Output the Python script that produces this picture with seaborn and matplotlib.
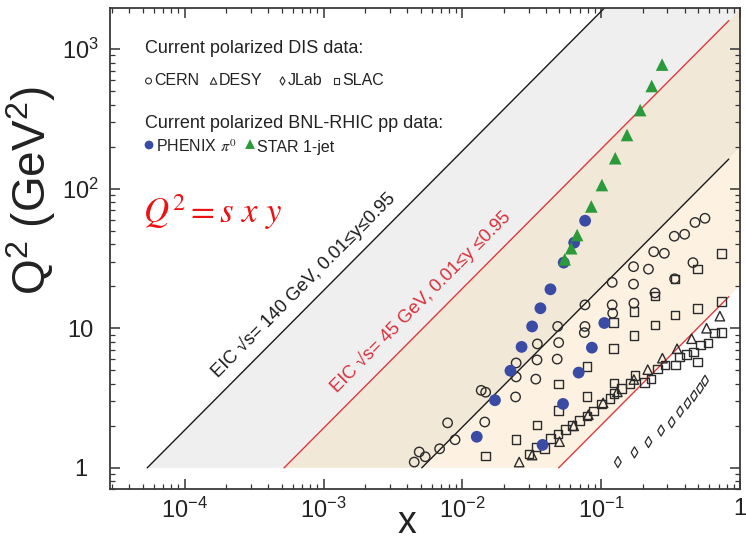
import numpy as np
import matplotlib
matplotlib.use("Agg")
import matplotlib.pyplot as plt
import seaborn as sns
from matplotlib.ticker import FixedLocator, FixedFormatter, NullFormatter, LogLocator

# ---------------- data ----------------
cern_x = [0.559, 0.474, 0.399, 0.336, 0.239, 0.285, 0.171, 0.219, 0.458, 0.338,
          0.120, 0.171, 0.244, 0.0764, 0.120, 0.172, 0.121, 0.0486, 0.0764, 0.0756,
          0.0347, 0.0494, 0.0244, 0.0345, 0.0482, 0.0244, 0.0338, 0.01367, 0.01472,
          0.02417, 0.00783, 0.0145, 0.00886, 0.00686, 0.00489, 0.0054, 0.0045]
cern_q2 = [61.3, 57.2, 47.1, 45.6, 35.3, 34.4, 27.6, 26.5, 29.5, 22.6,
           21.3, 20.7, 17.9, 14.7, 14.7, 15.1, 12.8, 10.3, 10.3, 9.30,
           7.72, 7.89, 5.64, 5.93, 6.01, 4.48, 4.32, 3.59, 3.48,
           3.22, 2.10, 2.13, 1.59, 1.37, 1.30, 1.20, 1.10]

slac_x = [0.735, 0.492, 0.340, 0.2445, 0.735, 0.492, 0.340, 0.2445, 0.172, 0.1227,
          0.172, 0.1227, 0.0789, 0.0494, 0.0789, 0.0494, 0.0345, 0.0244, 0.01472, 0.494,
          0.735, 0.652, 0.587, 0.520, 0.4607, 0.412, 0.3655, 0.343, 0.2885, 0.2553,
          0.229, 0.2049, 0.175, 0.1617, 0.140, 0.1234, 0.1238, 0.1155, 0.1002, 0.0882,
          0.0789, 0.0698, 0.0616, 0.0553, 0.049, 0.0431, 0.0390, 0.0340, 0.0301]
slac_q2 = [34.4, 26.6, 22.5, 17.0, 15.5, 13.9, 12.45, 10.56, 13.15, 10.97,
           8.84, 7.14, 5.33, 3.99, 3.24, 2.57, 2.03, 1.59, 1.22, 5.74,
           9.29, 9.21, 7.85, 7.59, 6.74, 6.49, 6.23, 5.46, 5.46, 5.11,
           4.34, 4.09, 4.59, 4.01, 3.69, 4.04, 3.40, 3.13, 2.87, 2.55,
           2.36, 2.19, 2.01, 1.88, 1.75, 1.63, 1.38, 1.41, 1.26]

desy_x = [0.716, 0.574, 0.448, 0.352, 0.276, 0.2164, 0.172, 0.1307, 0.1032, 0.0808,
          0.0634, 0.0501, 0.0318, 0.02566]
desy_q2 = [12.2, 10.0, 8.41, 7.13, 6.10, 5.05, 4.29, 3.50, 2.92, 2.40,
           2.00, 1.54, 1.235, 1.10]

jlab_x = [0.1318, 0.1737, 0.219, 0.270, 0.322, 0.370, 0.419, 0.466, 0.515, 0.559]
jlab_q2 = [1.10, 1.29, 1.53, 1.85, 2.12, 2.53, 2.90, 3.28, 3.72, 4.20]

phenix_x = [0.0127, 0.01717, 0.0222, 0.0267, 0.0318, 0.0365, 0.0431, 0.0537, 0.0639, 0.0766,
            0.0378, 0.0531, 0.0688, 0.0857, 0.1053]
phenix_q2 = [1.67, 3.05, 4.96, 7.35, 10.3, 13.9, 19.0, 29.5, 41.0, 58.9,
             1.46, 2.87, 4.81, 7.26, 10.9]

star_x = [0.0546, 0.0608, 0.0671, 0.0849, 0.1012, 0.1262, 0.1534, 0.1909, 0.2312, 0.2746]
star_q2 = [31.1, 37.4, 46.5, 74.5, 106, 165, 242, 365, 543, 773]

# EIC kinematic reach: Q^2 = s x y
eic_sqrt_s = [140, 45]
y_range = [0.01, 0.95]
q2_floor = 1.0
line_x_end = 0.83

x_ticks = [1e-4, 1e-3, 1e-2, 1e-1, 1]
x_ticklabels = [r'$10^{-4}$', r'$10^{-3}$', r'$10^{-2}$', r'$10^{-1}$', '1']
y_ticks = [1, 10, 100, 1000]
y_ticklabels = ['1', '10', r'$10^{2}$', r'$10^{3}$']

# ---------------- style ----------------
sns.set_style("ticks")
plt.rcParams['font.family'] = ['Liberation Sans', 'DejaVu Sans']
plt.rcParams['mathtext.fontset'] = 'custom'
plt.rcParams['mathtext.rm'] = 'Liberation Sans'
plt.rcParams['mathtext.it'] = 'Liberation Sans:italic'
plt.rcParams['mathtext.bf'] = 'Liberation Sans:bold'

BLUE = '#3a4ba6'
GREEN = '#2b9a3a'
DARK = '#2b2b2b'
RED_LINE = '#e03a3f'
RED_TXT = '#d8303a'

fig = plt.figure(figsize=(7.46, 5.42), dpi=100)
ax = fig.add_axes([0.1475, 0.0969, 0.8445, 0.8883])
ax.set_xscale('log')
ax.set_yscale('log')
ax.set_xlim(2.9e-5, 1.0)
ax.set_ylim(0.70, 1965)

# ---------------- EIC bands ----------------
c140_hi = eic_sqrt_s[0] ** 2 * y_range[1]
c140_lo = eic_sqrt_s[0] ** 2 * y_range[0]
c45_hi = eic_sqrt_s[1] ** 2 * y_range[1]
c45_lo = eic_sqrt_s[1] ** 2 * y_range[0]

def band(c_hi, c_lo, color):
    xs = [q2_floor / c_hi, 1.0, 1.0, q2_floor / c_lo]
    ys = [q2_floor, c_hi, c_lo, q2_floor]
    ax.fill(xs, ys, color=color, lw=0, zorder=0)

band(c140_hi, c45_hi, '#efeff0')   # 140 GeV only
band(c45_hi, c140_lo, '#f2e8d7')   # overlap
band(c140_lo, c45_lo, '#fdf2e2')   # 45 GeV only

for c, col in [(c140_hi, '#1a1a1a'), (c45_hi, RED_LINE), (c140_lo, '#1a1a1a'), (c45_lo, RED_LINE)]:
    ax.plot([q2_floor / c, line_x_end], [q2_floor, c * line_x_end], color=col, lw=1.0, zorder=1)

# ---------------- data markers ----------------
sns.scatterplot(x=cern_x, y=cern_q2, marker='o', s=46, facecolor='none', edgecolor=DARK,
                linewidth=1.0, ax=ax, zorder=3)
sns.scatterplot(x=slac_x, y=slac_q2, marker='s', s=38, facecolor='none', edgecolor=DARK,
                linewidth=1.0, ax=ax, zorder=3)
sns.scatterplot(x=desy_x, y=desy_q2, marker='^', s=46, facecolor='none', edgecolor=DARK,
                linewidth=1.0, ax=ax, zorder=3)
sns.scatterplot(x=jlab_x, y=jlab_q2, marker='d', s=32, facecolor='none', edgecolor=DARK,
                linewidth=0.9, ax=ax, zorder=3)
sns.scatterplot(x=phenix_x, y=phenix_q2, marker='o', s=72, color=BLUE, edgecolor='none',
                linewidth=0, ax=ax, zorder=4)
sns.scatterplot(x=star_x, y=star_q2, marker='^', s=82, color=GREEN, edgecolor='none',
                linewidth=0, ax=ax, zorder=5)

# ---------------- axes, ticks ----------------
ax.xaxis.set_major_locator(FixedLocator(x_ticks))
ax.xaxis.set_major_formatter(FixedFormatter(x_ticklabels))
ax.yaxis.set_major_locator(FixedLocator(y_ticks))
ax.yaxis.set_major_formatter(FixedFormatter(y_ticklabels))
ax.xaxis.set_minor_locator(LogLocator(base=10, subs=np.arange(2, 10)))
ax.yaxis.set_minor_locator(LogLocator(base=10, subs=np.arange(2, 10)))
ax.xaxis.set_minor_formatter(NullFormatter())
ax.yaxis.set_minor_formatter(NullFormatter())
ax.tick_params(which='major', direction='in', length=7, width=1.1, top=True, right=True,
               labelsize=17, color='#333333', labelcolor='#222222')
ax.tick_params(axis='x', which='major', pad=6)
ax.tick_params(axis='y', which='major', pad=21)
ax.tick_params(which='minor', direction='in', length=3.8, width=0.9, top=True, right=True,
               color='#333333')
for lab in ax.get_yticklabels():
    lab.set_horizontalalignment('center')
for sp in ax.spines.values():
    sp.set_color('#3a3a3a')
    sp.set_linewidth(1.3)

ax.set_ylabel(r'Q$^2$ (GeV$^2$)', fontsize=33, color='#222222')
ax.yaxis.set_label_coords(-0.082, 0.62)
ax.set_xlabel('x', fontsize=27, color='#222222')
ax.xaxis.set_label_coords(0.471, -0.0903)
ax.xaxis.label.set_verticalalignment('baseline')

# ---------------- band labels ----------------
p1 = ax.transData.transform((1e-3, 1.0))
p2 = ax.transData.transform((1e-2, 10.0))
ang = np.degrees(np.arctan2(p2[1] - p1[1], p2[0] - p1[0]))
ax.text(1.73e-4, 4.4, 'EIC \u221as= 140 GeV, 0.01\u2264y\u22640.95', rotation=ang,
        rotation_mode='anchor', ha='left', va='baseline', fontsize=13.2, color='#1a1a1a', zorder=6)
ax.text(1.26e-3, 3.44, 'EIC \u221as= 45 GeV, 0.01\u2264y \u22640.95', rotation=ang,
        rotation_mode='anchor', ha='left', va='baseline', fontsize=13.2, color=RED_TXT, zorder=6)

ax.text(0.0524, 0.5535, r'$Q^2 = s\ x\ y$', transform=ax.transAxes, color='#ee1111',
        fontsize=25, math_fontfamily='stix', va='baseline', ha='left')

# ---------------- legend block ----------------
T = ax.transAxes
ax.text(0.0556, 0.9065, 'Current polarized DIS data:', transform=T, fontsize=13,
        va='baseline', color='#222222')
row2 = [('o', 0.0611, 'CERN', 0.0698, 18),
        ('^', 0.1643, 'DESY', 0.1730, 22),
        ('d', 0.2738, 'JLab', 0.2825, 18),
        ('s', 0.3595, 'SLAC', 0.3683, 18)]
for m, mx, lab, tx, ss in row2:
    ax.scatter([mx], [0.8485], marker=m, s=ss, facecolor='none', edgecolor=DARK,
               linewidth=0.8, transform=T, zorder=6)
    ax.text(tx, 0.840, lab, transform=T, fontsize=11.5, va='baseline', color='#222222')

ax.text(0.0556, 0.7508, 'Current polarized BNL-RHIC pp data:', transform=T, fontsize=13,
        va='baseline', color='#222222')
ax.scatter([0.0619], [0.7155], marker='o', s=40, color=BLUE, edgecolor='none', transform=T, zorder=6)
ax.text(0.073, 0.701, r'PHENIX $\pi^0$', transform=T, fontsize=11.5, va='baseline',
        color='#222222', math_fontfamily='stix')
ax.scatter([0.2222], [0.7175], marker='^', s=50, color=GREEN, edgecolor='none', transform=T, zorder=6)
ax.text(0.2333, 0.701, 'STAR 1-jet', transform=T, fontsize=11.5, va='baseline', color='#222222')

fig.savefig('out.png', dpi=100)
